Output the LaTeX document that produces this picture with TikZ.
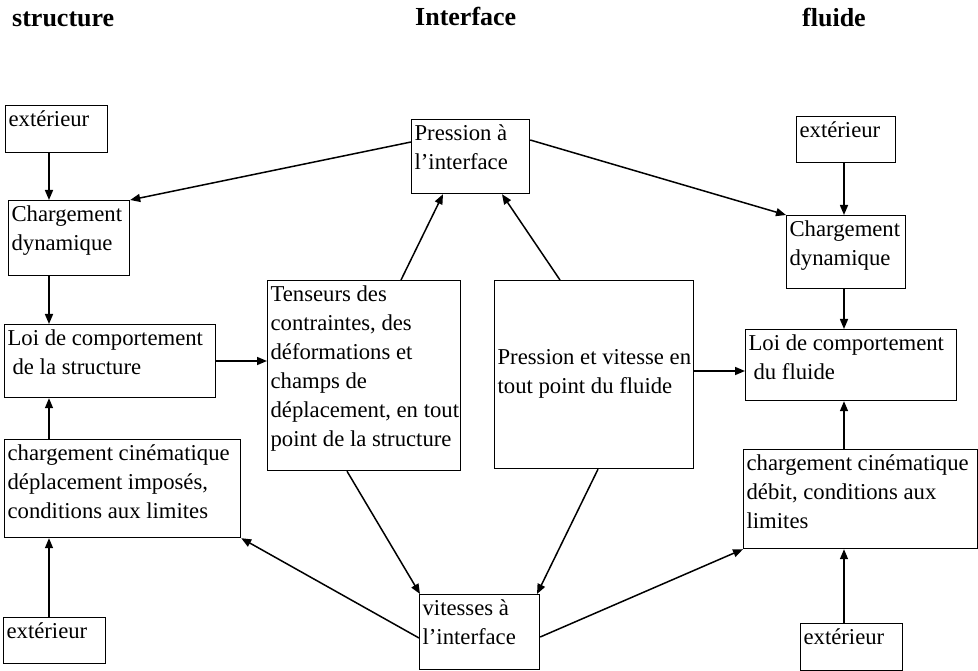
\documentclass[tikz,border=0pt]{standalone}
\usepackage{fontspec}
\setmainfont{Liberation Serif}
\usetikzlibrary{arrows.meta}
\newcommand\bodyfont{\fontsize{22.7}{29}\selectfont}
\newcommand\hdrfont{\fontsize{26}{30}\selectfont\bfseries}
\newcommand\mybx[6]{\node[box, anchor=north west] (#1) at (#2,#3) {\parbox[c][#5pt][t]{#4pt}{\bodyfont\parindent=0pt\leftskip=3pt\rightskip=0pt plus 1fil\hfuzz=60pt\rule{0pt}{21pt}#6}};}
\tikzset{
  box/.style={draw, line width=1.2pt, inner sep=0pt},
  arr/.style={line width=1.5pt, -{Triangle[length=10pt,width=8pt]}},
  hdr/.style={anchor=base west, inner sep=0pt, font=\hdrfont}
}
\begin{document}
\begin{tikzpicture}[x=1pt,y=-1pt]
\useasboundingbox[fill=white] (0,0) rectangle (978,671);
% headers
\node[hdr] (hS) at (12,27) {structure};
\node[hdr] (hI) at (415,26) {Interface};
\node[hdr] (hF) at (802,27) {fluide};
% left column
\mybx{extL1}{5}{105}{102}{47}{extérieur}
\mybx{cdL}{8}{200}{121}{75}{Chargement\\dynamique}
\mybx{loiS}{4}{324}{211}{73}{Loi de comportement\\\hspace*{5pt}de la structure}
\mybx{cinL}{4}{439}{236}{98}{chargement cinématique\\déplacement imposés,\\conditions aux limites}
\mybx{extL2}{3}{617}{102}{46}{extérieur}
% center
\mybx{PI}{411}{119}{118}{74}{Pression à\\l’interface}
\mybx{ten}{267}{280}{193}{190}{Tenseurs des\\contraintes, des\\déformations et\\champs de\\déplacement, en tout\\point de la structure}
\node[box, anchor=north west] (pv) at (494,280) {\parbox[c][188pt][c]{199pt}{\bodyfont\parindent=0pt\leftskip=3pt\rightskip=0pt plus 1fil\hfuzz=60pt Pression et vitesse en\\tout point du fluide\par\vspace{2pt}}};
\mybx{vi}{419}{594}{120}{75}{vitesses à\\l’interface}
% right column
\mybx{extR1}{796}{116}{99}{46}{extérieur}
\mybx{cdR}{786}{215}{119}{73}{Chargement\\dynamique}
\mybx{loiF}{745}{329}{211}{71}{Loi de comportement\\\hspace*{5pt}du fluide}
\mybx{cinR}{743}{449}{234}{99}{chargement cinématique\\débit, conditions aux\\limites}
\mybx{extR2}{800}{623}{102}{47}{extérieur}
% guide coordinates
\coordinate (xL) at (49,0);
\coordinate (xR) at (844,0);
% vertical arrows left
\draw[arr] (extL1.south -| xL) -- (cdL.north -| xL);
\draw[arr] (cdL.south -| xL) -- (loiS.north -| xL);
\draw[arr] (cinL.north -| xL) -- (loiS.south -| xL);
\draw[arr] (extL2.north -| xL) -- (cinL.south -| xL);
% vertical arrows right
\draw[arr] (extR1.south -| xR) -- (cdR.north -| xR);
\draw[arr] (cdR.south -| xR) -- (loiF.north -| xR);
\draw[arr] (cinR.north -| xR) -- (loiF.south -| xR);
\draw[arr] (extR2.north -| xR) -- (cinR.south -| xR);
% horizontal arrows
\draw[arr] (loiS.east |- 0,361) -- (ten.west |- 0,361);
\draw[arr] (pv.east |- 0,371) -- (loiF.west |- 0,371);
% diagonal arrows
\draw[arr] (PI.west |- 0,142) -- (cdL.north east);
\draw[arr] (PI.east |- 0,140) -- (cdR.north west);
\draw[arr] (ten.north -| 401,0) -- (PI.south -| 443,0);
\draw[arr] (pv.north -| 560,0) -- (PI.south -| 502,0);
\draw[arr] (ten.south -| 347,0) -- (vi.north -| 420,0);
\draw[arr] (pv.south -| 598,0) -- (vi.north -| 537,0);
\draw[arr] (vi.west |- 0,638) -- (cinL.south east);
\draw[arr] (vi.east |- 0,637) -- (cinR.south west);
\end{tikzpicture}
\end{document}
